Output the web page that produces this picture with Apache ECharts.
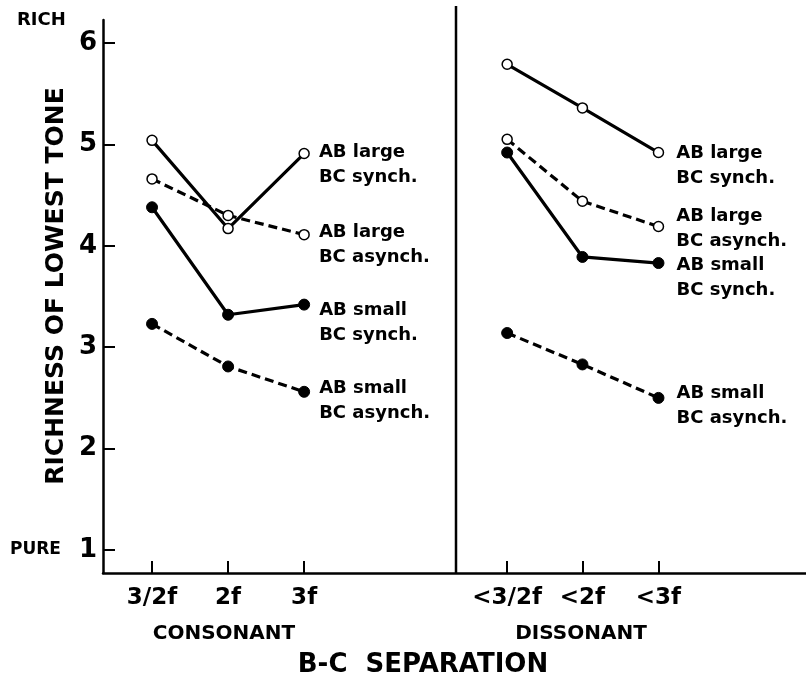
<!DOCTYPE html>
<html>
<head>
<meta charset="utf-8">
<script src="https://cdn.jsdelivr.net/npm/echarts@6/dist/echarts.min.js"></script>
<style>
  html, body { margin: 0; padding: 0; background: #fff; }
  #chart { width: 806px; height: 677px; }
</style>
</head>
<body>
<div id="chart"></div>
<script>
// x positions of the conditions on the separation axis
var consonantX = [1, 2, 3];
var dissonantX = [5.67, 6.66, 7.66];
var dividerX = 5;
var consonantTicks = ['3/2f', '2f', '3f'];
var dissonantTicks = ['<3/2f', '<2f', '<3f'];
var yTicks = [1, 2, 3, 4, 5, 6];

// richness ratings, consonant then dissonant
var seriesNames = ['AB large\nBC synch.', 'AB large\nBC asynch.', 'AB small\nBC synch.', 'AB small\nBC asynch.'];
var largeSynchC = [5.04, 4.17, 4.91];
var largeSynchD = [5.79, 5.36, 4.92];
var largeAsynchC = [4.66, 4.30, 4.11];
var largeAsynchD = [5.05, 4.44, 4.19];
var smallSynchC = [4.38, 3.32, 3.42];
var smallSynchD = [4.92, 3.89, 3.83];
var smallAsynchC = [3.23, 2.81, 2.56];
var smallAsynchD = [3.14, 2.83, 2.50];

var font = '"DejaVu Sans", sans-serif';

var allX = consonantX.concat(dissonantX);
var allTicks = consonantTicks.concat(dissonantTicks);

// end label offsets per series: [consonant side, dissonant side]
var labelOffsets = [
  [[4, -14], [7, -12]],
  [[4, -15], [7, -23]],
  [[4, -7], [7, -10]],
  [[4, -16], [7, -17]]
];

function buildData(c, d, idx) {
  var out = [];
  function point(x, y, isEnd, side) {
    var item = { value: [x, y] };
    if (isEnd) {
      item.label = {
        show: true,
        position: 'right',
        verticalAlign: 'top',
        offset: labelOffsets[idx][side],
        formatter: seriesNames[idx]
      };
    }
    return item;
  }
  for (var i = 0; i < c.length; i++) out.push(point(consonantX[i], c[i], i === c.length - 1, 0));
  out.push({ value: [dividerX, '-'] });
  for (var j = 0; j < d.length; j++) out.push(point(dissonantX[j], d[j], j === d.length - 1, 1));
  return out;
}

function makeSeries(idx, c, d, open, dashed) {
  return {
    name: seriesNames[idx],
    type: 'line',
    data: buildData(c, d, idx),
    symbol: 'circle',
    symbolSize: open ? 10 : 11,
    z: open ? 4 : 3,
    itemStyle: {
      color: open ? '#fff' : '#000',
      borderColor: '#000',
      borderWidth: open ? 1.5 : 1
    },
    lineStyle: {
      color: '#000',
      width: 3.2,
      type: dashed ? [9, 5] : 'solid'
    },
    label: {
      show: false,
      color: '#000',
      fontFamily: font,
      fontWeight: 'bold',
      fontSize: 18,
      lineHeight: 25
    },
    emphasis: { disabled: true },
    animation: false
  };
}

var chart = echarts.init(document.getElementById('chart'));
var option = {
  backgroundColor: '#fff',
  animation: false,
  grid: { left: 103, right: 0, top: 20, bottom: 104 },
  xAxis: {
    type: 'value',
    min: 0.355,
    max: 9.6,
    splitLine: { show: false },
    axisLine: { show: true, lineStyle: { color: '#000', width: 2.5 } },
    axisTick: { show: true, inside: true, length: 12, customValues: allX, lineStyle: { color: '#000', width: 2 } },
    axisLabel: {
      customValues: allX,
      margin: 14,
      color: '#000',
      fontFamily: font,
      fontWeight: 'bold',
      fontSize: 23,
      formatter: function (v) {
        var k = allX.indexOf(v);
        return k >= 0 ? allTicks[k] : '';
      }
    }
  },
  yAxis: {
    type: 'value',
    min: 0.773,
    max: 6.227,
    splitLine: { show: false },
    axisLine: { show: true, lineStyle: { color: '#000', width: 2.5 } },
    axisTick: { show: true, inside: true, length: 12, customValues: yTicks, lineStyle: { color: '#000', width: 2 } },
    axisLabel: {
      customValues: yTicks,
      margin: 6,
      color: '#000',
      fontFamily: font,
      fontWeight: 'bold',
      fontSize: 26
    }
  },
  graphic: [
    { type: 'text', x: 17, y: 20, style: { text: 'RICH', fill: '#000', font: 'bold 18px ' + font, verticalAlign: 'middle' } },
    { type: 'text', x: 10, y: 550, style: { text: 'PURE', fill: '#000', font: 'bold 17px ' + font, verticalAlign: 'middle' } },
    { type: 'text', x: 56, y: 286, rotation: Math.PI / 2,
      style: { text: 'RICHNESS OF LOWEST TONE', fill: '#000', font: 'bold 25px ' + font, align: 'center', verticalAlign: 'middle' } },
    { type: 'text', x: 224, y: 634, style: { text: 'CONSONANT', fill: '#000', font: 'bold 20px ' + font, align: 'center', verticalAlign: 'middle' } },
    { type: 'text', x: 581, y: 634, style: { text: 'DISSONANT', fill: '#000', font: 'bold 20px ' + font, align: 'center', verticalAlign: 'middle' } },
    { type: 'text', x: 423, y: 665, style: { text: 'B-C  SEPARATION', fill: '#000', font: 'bold 26px ' + font, align: 'center', verticalAlign: 'middle' } },
    { type: 'line', shape: { x1: 456, y1: 6, x2: 456, y2: 573 }, style: { stroke: '#000', lineWidth: 2.5 } }
  ],
  series: [
    makeSeries(3, smallAsynchC, smallAsynchD, false, true),
    makeSeries(2, smallSynchC, smallSynchD, false, false),
    makeSeries(1, largeAsynchC, largeAsynchD, true, true),
    makeSeries(0, largeSynchC, largeSynchD, true, false)
  ]
};
chart.setOption(option);
</script>
</body>
</html>
